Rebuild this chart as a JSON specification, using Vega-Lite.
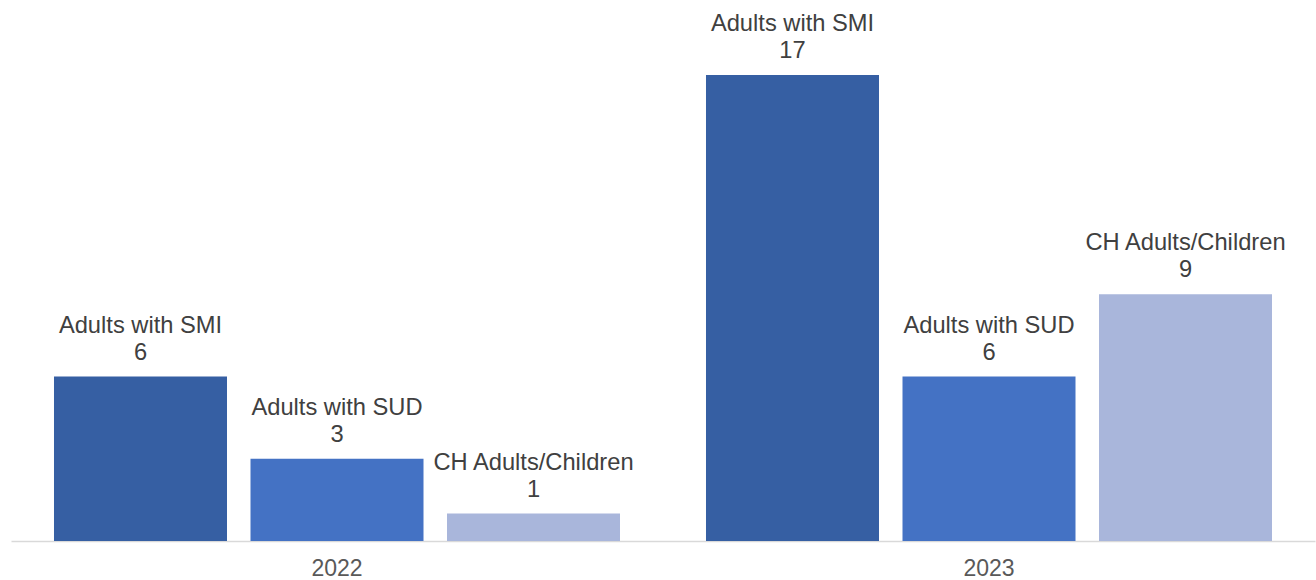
{
  "$schema": "https://vega.github.io/schema/vega-lite/v6.json",
  "width": 1304,
  "height": 541,
  "autosize": {"type": "none"},
  "padding": {"left": 11, "top": 0, "right": 1, "bottom": 39},
  "config": {"view": {"stroke": null}, "font": "Liberation Sans"},
  "data": {
    "values": [
      {"year": "2022", "group": "Adults with SMI", "value": 6},
      {"year": "2022", "group": "Adults with SUD", "value": 3},
      {"year": "2022", "group": "CH Adults/Children", "value": 1},
      {"year": "2023", "group": "Adults with SMI", "value": 17},
      {"year": "2023", "group": "Adults with SUD", "value": 6},
      {"year": "2023", "group": "CH Adults/Children", "value": 9}
    ]
  },
  "encoding": {
    "x": {
      "field": "year",
      "type": "nominal",
      "scale": {"paddingInner": 0, "paddingOuter": 0},
      "axis": {
        "title": null,
        "labelAngle": 0,
        "ticks": false,
        "domainColor": "#D9D9D9",
        "domainWidth": 1.5,
        "labelFontSize": 23,
        "labelColor": "#595959",
        "labelPadding": 34,
        "labelBaseline": "alphabetic"
      }
    },
    "xOffset": {
      "field": "group",
      "type": "nominal",
      "scale": {
        "domain": ["Adults with SMI", "Adults with SUD", "CH Adults/Children"],
        "paddingInner": 0.1196,
        "paddingOuter": 0.2188
      }
    },
    "y": {
      "field": "value",
      "type": "quantitative",
      "scale": {"domain": [0, 19.74], "nice": false},
      "axis": null
    }
  },
  "layer": [
    {
      "mark": {"type": "bar"},
      "encoding": {
        "color": {
          "field": "group",
          "type": "nominal",
          "scale": {
            "domain": ["Adults with SMI", "Adults with SUD", "CH Adults/Children"],
            "range": ["#365FA3", "#4472C4", "#A9B6DB"]
          },
          "legend": null
        }
      }
    },
    {
      "mark": {"type": "text", "dy": -17, "fontSize": 23.7, "color": "#404040", "baseline": "alphabetic"},
      "encoding": {"text": {"field": "value", "type": "quantitative"}}
    },
    {
      "mark": {"type": "text", "dy": -44, "fontSize": 23.7, "color": "#404040", "baseline": "alphabetic"},
      "encoding": {"text": {"field": "group", "type": "nominal"}}
    }
  ]
}
